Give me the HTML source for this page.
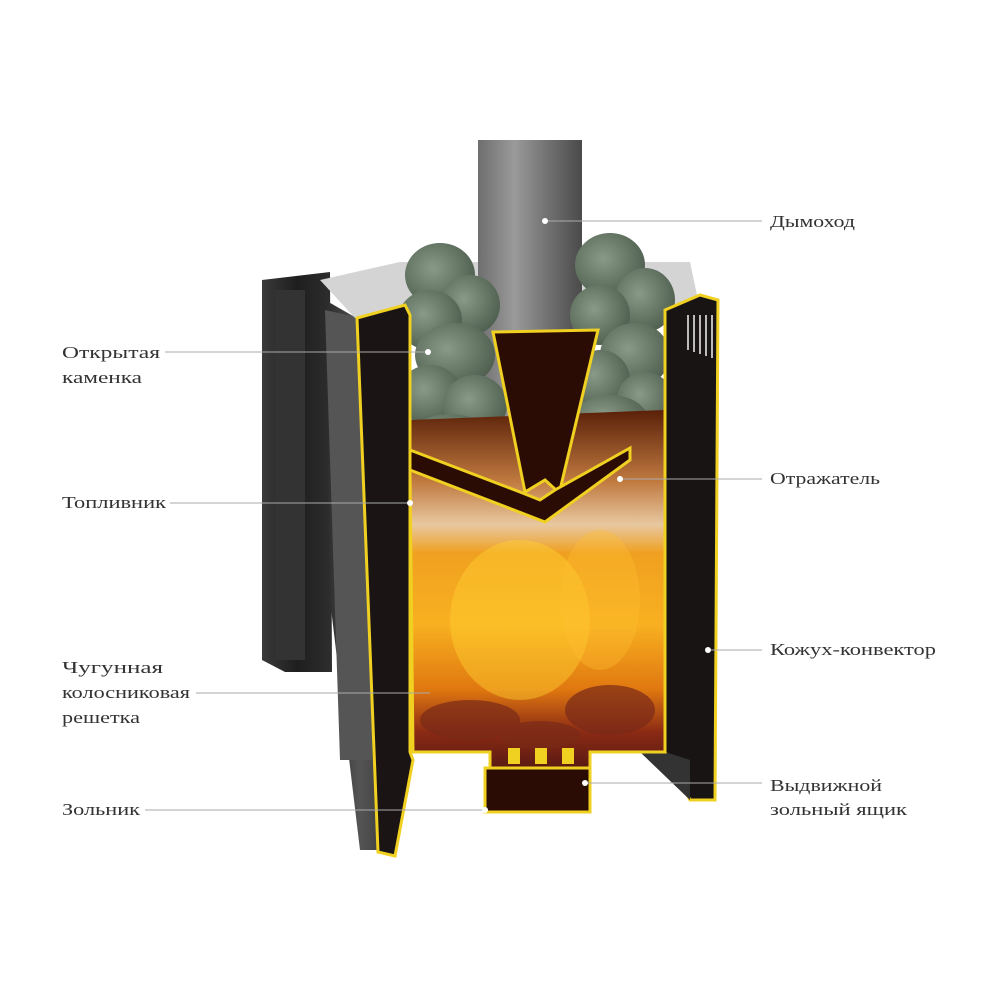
<!DOCTYPE html>
<html><head><meta charset="utf-8"><style>
html,body{margin:0;padding:0;background:#fff;}
svg{display:block}
text{font-family:"Liberation Serif",serif;font-size:17px;fill:#333;}
</style></head><body>
<svg width="1000" height="1000" viewBox="0 0 1000 1000" xmlns="http://www.w3.org/2000/svg">
<defs>
<linearGradient id="chim" x1="0" x2="1"><stop offset="0" stop-color="#6e6e6e"/><stop offset="0.35" stop-color="#9a9a9a"/><stop offset="0.6" stop-color="#7a7a7a"/><stop offset="1" stop-color="#4a4a4a"/></linearGradient>
<linearGradient id="side" x1="0" x2="1"><stop offset="0" stop-color="#2a2a2a"/><stop offset="0.5" stop-color="#555"/><stop offset="1" stop-color="#333"/></linearGradient>
<linearGradient id="back" x1="0" x2="1"><stop offset="0" stop-color="#3a3a3a"/><stop offset="0.5" stop-color="#1e1e1e"/><stop offset="1" stop-color="#2e2e2e"/></linearGradient>
<linearGradient id="fire" x1="0" x2="0" y1="0" y2="1">
<stop offset="0" stop-color="#5a2008"/><stop offset="0.2" stop-color="#c07a40"/><stop offset="0.32" stop-color="#e8c8a0"/>
<stop offset="0.4" stop-color="#f0a020"/><stop offset="0.6" stop-color="#f8b020"/><stop offset="0.78" stop-color="#e07810"/><stop offset="0.9" stop-color="#8a2a14"/><stop offset="1" stop-color="#5a1a12"/></linearGradient>
<radialGradient id="stone" cx="0.4" cy="0.4" r="0.7"><stop offset="0" stop-color="#8a9a88"/><stop offset="1" stop-color="#4a5a4a"/></radialGradient>
</defs>
<polygon points="262,280 330,272 332,672 285,672 262,660" fill="url(#back)"/>
<rect x="275" y="290" width="30" height="370" fill="#333"/>
<polygon points="325,300 360,320 395,850 360,850 330,600" fill="url(#side)"/>
<polygon points="325,310 370,320 372,760 340,760" fill="#555"/>
<polygon points="320,280 400,262 690,262 698,300 665,308 410,312 355,318" fill="#d4d4d4"/>
<rect x="478" y="140" width="104" height="320" fill="url(#chim)"/>
<g fill="url(#stone)">
<ellipse cx="440" cy="275" rx="35" ry="32"/><ellipse cx="470" cy="305" rx="30" ry="30"/>
<ellipse cx="430" cy="320" rx="32" ry="30"/><ellipse cx="455" cy="355" rx="40" ry="32"/>
<ellipse cx="430" cy="395" rx="32" ry="30"/><ellipse cx="475" cy="405" rx="32" ry="30"/>
<ellipse cx="450" cy="440" rx="42" ry="26"/><ellipse cx="610" cy="265" rx="35" ry="32"/>
<ellipse cx="645" cy="300" rx="30" ry="32"/><ellipse cx="600" cy="315" rx="30" ry="30"/>
<ellipse cx="635" cy="355" rx="35" ry="32"/><ellipse cx="600" cy="380" rx="30" ry="30"/>
<ellipse cx="645" cy="400" rx="28" ry="28"/><ellipse cx="610" cy="420" rx="38" ry="25"/>
</g>
<polygon points="410,420 665,410 665,752 590,752 590,768 490,768 490,752 413,752" fill="url(#fire)"/>
<ellipse cx="520" cy="620" rx="70" ry="80" fill="#ffd030" opacity="0.45"/>
<ellipse cx="600" cy="600" rx="40" ry="70" fill="#ffc030" opacity="0.35"/>
<g fill="#7a2a18" opacity="0.7"><ellipse cx="470" cy="720" rx="50" ry="20"/><ellipse cx="610" cy="710" rx="45" ry="25"/><ellipse cx="540" cy="735" rx="40" ry="14"/></g>
<g fill="#2a0c04" stroke="#f0d020" stroke-width="3">
<polygon points="493,332 598,330 560,490 556,490 545,480 525,492"/>
<polygon points="410,450 520,492 540,500 555,490 630,448 630,460 545,522 410,470"/>
</g>
<polygon points="357,318 405,305 410,315 410,752 413,760 395,856 378,852" fill="#1a1414" stroke="#f0d020" stroke-width="3"/>
<polygon points="665,310 700,295 718,300 715,800 690,800 665,752" fill="#181414" stroke="#f0d020" stroke-width="3"/>
<g stroke="#bbb" stroke-width="2"><line x1="688" y1="315" x2="688" y2="350"/><line x1="694" y1="315" x2="694" y2="352"/><line x1="700" y1="315" x2="700" y2="354"/><line x1="706" y1="315" x2="706" y2="356"/><line x1="712" y1="315" x2="712" y2="358"/></g>
<polygon points="640,752 690,800 690,760 665,752" fill="#333"/>
<polyline points="410,470 413,752 490,752 490,768 590,768 590,752 665,752 665,310" fill="none" stroke="#f0d020" stroke-width="3"/>
<rect x="485" y="768" width="105" height="44" fill="#2a0c04" stroke="#f0d020" stroke-width="3"/>
<g fill="#f0d020"><rect x="508" y="748" width="12" height="16"/><rect x="535" y="748" width="12" height="16"/><rect x="562" y="748" width="12" height="16"/></g>
<g stroke="#aaa" stroke-width="1">
<line x1="545" y1="221" x2="762" y2="221"/>
<line x1="165" y1="352" x2="428" y2="352"/>
<line x1="620" y1="479" x2="762" y2="479"/>
<line x1="170" y1="503" x2="410" y2="503"/>
<line x1="708" y1="650" x2="762" y2="650"/>
<line x1="196" y1="693" x2="430" y2="693"/>
<line x1="585" y1="783" x2="762" y2="783"/>
<line x1="145" y1="810" x2="485" y2="810"/>
</g>
<g fill="#fff"><circle cx="545" cy="221" r="3"/><circle cx="428" cy="352" r="3"/><circle cx="620" cy="479" r="3"/><circle cx="410" cy="503" r="3"/><circle cx="708" cy="650" r="3"/><circle cx="585" cy="783" r="3"/><circle cx="485" cy="810" r="3"/></g>
<text x="770" y="227" textLength="85" lengthAdjust="spacingAndGlyphs">Дымоход</text>
<text x="62" y="358" textLength="98" lengthAdjust="spacingAndGlyphs">Открытая</text>
<text x="62" y="383" textLength="80" lengthAdjust="spacingAndGlyphs">каменка</text>
<text x="770" y="484" textLength="110" lengthAdjust="spacingAndGlyphs">Отражатель</text>
<text x="62" y="508" textLength="104" lengthAdjust="spacingAndGlyphs">Топливник</text>
<text x="770" y="655" textLength="166" lengthAdjust="spacingAndGlyphs">Кожух-конвектор</text>
<text x="62" y="673" textLength="101" lengthAdjust="spacingAndGlyphs">Чугунная</text>
<text x="62" y="698" textLength="128" lengthAdjust="spacingAndGlyphs">колосниковая</text>
<text x="62" y="723" textLength="78" lengthAdjust="spacingAndGlyphs">решетка</text>
<text x="770" y="791" textLength="112" lengthAdjust="spacingAndGlyphs">Выдвижной</text>
<text x="770" y="815" textLength="137" lengthAdjust="spacingAndGlyphs">зольный ящик</text>
<text x="62" y="815" textLength="78" lengthAdjust="spacingAndGlyphs">Зольник</text>
</svg>
</body></html>
